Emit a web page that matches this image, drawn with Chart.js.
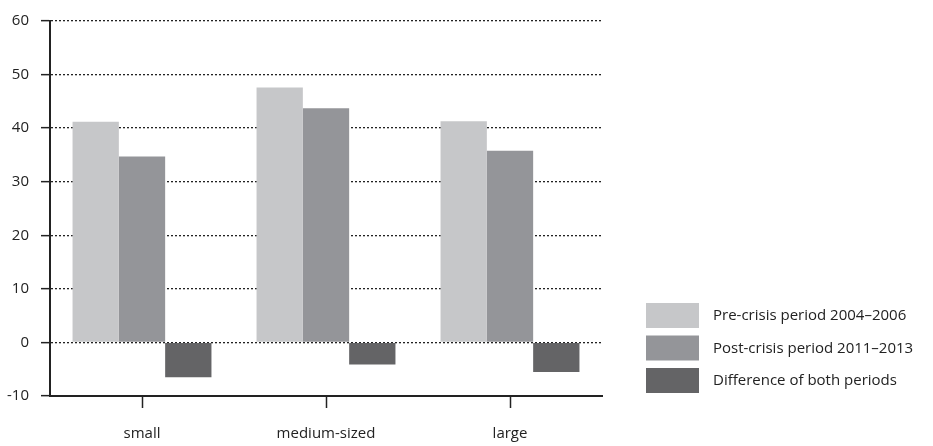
<!DOCTYPE html>
<html>
<head>
<meta charset="utf-8">
<script src="https://cdn.jsdelivr.net/npm/chart.js@4/dist/chart.umd.min.js"></script>
<style>
    html, body { margin: 0; padding: 0; background: #fff; }
    #wrap { width: 933px; height: 446px; position: relative; }
</style>
</head>
<body>
<div id="wrap"><canvas id="chart"></canvas></div>
<script>
// data
const categories = ['small', 'medium-sized', 'large'];
const preCrisis = [41.2, 47.6, 41.3];
const postCrisis = [34.7, 43.7, 35.8];
const difference = [-6.5, -4.1, -5.5];
const seriesNames = ['Pre-crisis period 2004–2006', 'Post-crisis period 2011–2013', 'Difference of both periods'];
const seriesColors = ['#c6c7c9', '#949599', '#646466'];
const yTicks = [-10, 0, 10, 20, 30, 40, 50, 60];

const FONT = '"Open Sans", "Noto Sans", sans-serif';
const INK = '#222';

// legend drawn at the lower right, like the original
const sideLegend = {
    id: 'sideLegend',
    afterDraw(chart) {
        const ctx = chart.ctx;
        ctx.save();
        ctx.font = '15px ' + FONT;
        ctx.textBaseline = 'middle';
        chart.data.datasets.forEach((ds, i) => {
            const y = 303 + i * 32.5;
            ctx.fillStyle = ds.backgroundColor;
            ctx.fillRect(646, y, 53, 25);
            ctx.fillStyle = INK;
            ctx.fillText(ds.label, 713, y + 13);
        });
        ctx.restore();
    }
};

const datasets = [preCrisis, postCrisis, difference].map((vals, i) => ({
    label: seriesNames[i],
    data: vals,
    backgroundColor: seriesColors[i],
    borderWidth: 0,
    categoryPercentage: 0.755,
    barPercentage: 1.0
}));

new Chart(document.getElementById('chart'), {
    type: 'bar',
    data: { labels: categories, datasets },
    options: {
        responsive: true,
        maintainAspectRatio: false,
        animation: false,
        layout: { padding: { top: 17, right: 331, bottom: 0, left: 0 } },
        plugins: {
            legend: { display: false },
            tooltip: { enabled: false }
        },
        scales: {
            x: {
                offset: true,
                grid: {
                    offset: false,
                    drawOnChartArea: false,
                    drawTicks: true,
                    tickLength: 12,
                    tickWidth: 1.5,
                    tickColor: INK
                },
                border: { display: true, color: INK, width: 2 },
                ticks: { color: INK, font: { family: FONT, size: 15 }, padding: 17 },
                afterFit(s) { s.height = 50; }
            },
            y: {
                min: -10,
                max: 60,
                afterBuildTicks(s) { s.ticks = yTicks.map(v => ({ value: v })); },
                grid: {
                    color: INK,
                    lineWidth: 1.3,
                    tickBorderDash: [],
                    tickColor: INK,
                    tickWidth: 1.5,
                    tickLength: 9
                },
                // in v4 the grid line dash lives on border.dash
                border: { display: true, color: INK, width: 2, dash: [2, 2] },
                ticks: { color: INK, font: { family: FONT, size: 15 }, padding: 12 },
                afterFit(s) { s.width = 50; }
            }
        }
    },
    plugins: [sideLegend]
});
</script>
</body>
</html>
